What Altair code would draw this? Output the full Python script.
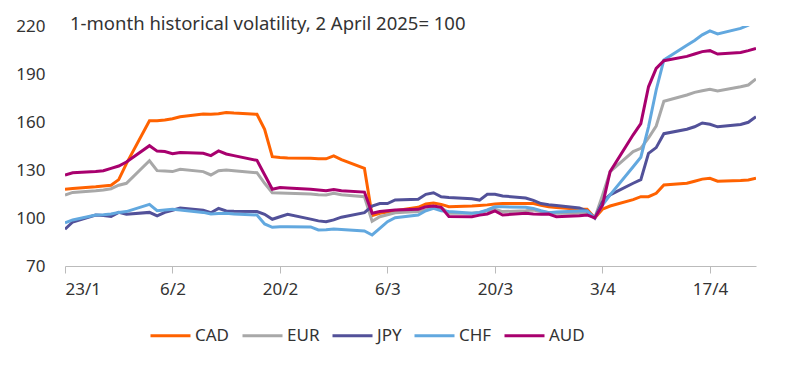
import altair as alt
import pandas as pd

dates = [
    "2025-01-23", "2025-01-24", "2025-01-27", "2025-01-28", "2025-01-29", "2025-01-30", "2025-01-31",
    "2025-02-03", "2025-02-04", "2025-02-05", "2025-02-06", "2025-02-07",
    "2025-02-10", "2025-02-11", "2025-02-12", "2025-02-13", "2025-02-14",
    "2025-02-17", "2025-02-18", "2025-02-19", "2025-02-20", "2025-02-21",
    "2025-02-24", "2025-02-25", "2025-02-26", "2025-02-27", "2025-02-28",
    "2025-03-03", "2025-03-04", "2025-03-05", "2025-03-06", "2025-03-07",
    "2025-03-10", "2025-03-11", "2025-03-12", "2025-03-13", "2025-03-14",
    "2025-03-17", "2025-03-18", "2025-03-19", "2025-03-20", "2025-03-21",
    "2025-03-24", "2025-03-25", "2025-03-26", "2025-03-27", "2025-03-28",
    "2025-03-31", "2025-04-01", "2025-04-02", "2025-04-03", "2025-04-04",
    "2025-04-07", "2025-04-08", "2025-04-09", "2025-04-10", "2025-04-11",
    "2025-04-14", "2025-04-15", "2025-04-16", "2025-04-17", "2025-04-18",
    "2025-04-21", "2025-04-22", "2025-04-23",
]

cad = [118, 118.5, 119.5, 120, 120.5, 124, 134,
       160.8, 160.8, 161.3, 162, 163.3,
       165, 164.8, 165.2, 166, 165.6,
       164.8, 155.4, 138.3, 137.8, 137.5,
       137.3, 137, 137, 138.8, 136.5,
       131, 101.5, 103, 103.8, 104.5,
       106.7, 108.8, 109.3, 108.5, 107,
       107.5, 107.8, 108.2, 108.8, 109,
       109, 109, 108, 107, 106.5,
       105.5, 105.4, 100, 105.5, 107.5,
       111.5, 113.3, 113.3, 115.4, 120.6,
       121.7, 123, 124.3, 124.8, 123,
       123.5, 123.8, 124.8]

eur = [114.4, 116, 117, 117.5, 118.3, 120.5, 121.7,
       135.8, 129.6, 129.3, 129, 130.4,
       129, 126.9, 129.6, 130, 129.5,
       128.3, 121.7, 115.8, 115.6, 115.4,
       115, 114.5, 114.4, 115.4, 114.5,
       113.3, 98, 100.8, 102, 103.3,
       104, 105, 106.5, 106.5, 103,
       103, 103.5, 104.5, 105.5, 104,
       104.5, 105, 104, 103.5, 103,
       103, 103, 100, 114, 129,
       141.5, 143.5, 150, 157.5, 173,
       176.9, 178.5, 179.5, 180.5, 179.4,
       182, 183.1, 186.9]

jpy = [93, 97.5, 101.9, 101.5, 101, 103.5, 102.3,
       103.5, 101.3, 103.5, 104.8, 106.2,
       104.8, 103.3, 106, 104.4, 104.2,
       104, 102.3, 99.2, 100.8, 102.3,
       99.3, 98.2, 97.7, 98.8, 100.5,
       103.3, 107.5, 109, 109, 111.3,
       111.7, 114.8, 115.8, 113.3, 112.8,
       112, 111.2, 114.8, 114.8, 113.8,
       112.5, 111, 109, 108.3, 107.8,
       106.2, 104.4, 100, 110, 114.5,
       121.7, 124, 140.4, 144, 152.7,
       155.5, 157, 159.4, 158.6, 157,
       158.5, 159.8, 163.3]

chf = [97, 98.8, 101.9, 102, 102.5, 103.5, 104,
       108.5, 104.6, 105, 105.4, 105,
       103.5, 102.5, 102.8, 103, 102.5,
       101.9, 96.3, 94.2, 94.6, 94.6,
       94.4, 92.5, 92.7, 93.1, 92.8,
       91.9, 89.4, 93.5, 97.7, 100.2,
       101.9, 104.5, 106, 104.5, 104,
       103, 103.5, 105, 107, 107,
       106.7, 106, 104.5, 103.3, 103.8,
       104.4, 104.4, 100, 108, 114.5,
       132, 138, 157, 180, 198.8,
       208, 211, 214.5, 217, 215,
       218.5, 220.5, 224]

aud = [126.9, 128.3, 129, 129.5, 131, 132.5, 135,
       145.2, 141.8, 141.5, 140.2, 141,
       140.4, 139, 141.9, 140, 139,
       136, 127, 118, 119, 118.7,
       118, 117.5, 117, 117.8, 117,
       116.2, 103, 104, 104.6, 105,
       105.4, 107, 107.5, 106.7, 101,
       100.8, 101.8, 102.5, 104.4, 101.9,
       103, 102.5, 102.3, 102.5, 100.8,
       101.4, 101.9, 100, 108, 129,
       152, 159, 182, 193.5, 198.3,
       201, 202.5, 204, 204.6, 202.5,
       203.5, 204.6, 206]

series = ["CAD", "EUR", "JPY", "CHF", "AUD"]
colors = ["#FF6200", "#A8A8A8", "#525199", "#62A8DF", "#A8006E"]
y_ticks = [70, 100, 130, 160, 190, 220]
x_ticks = [(1, 23), (2, 6), (2, 20), (3, 6), (3, 20), (4, 3), (4, 17)]
title_text = "1-month historical volatility, 2 April 2025= 100"

rows = []
for name, vals in zip(series, [cad, eur, jpy, chf, aud]):
    for d, v in zip(dates, vals):
        rows.append({"date": d, "ccy": name, "value": v})
df = pd.DataFrame(rows)

FONT = "Noto Sans"
TXT = "#333333"

lines = alt.Chart(df).mark_line(strokeWidth=3, clip=True).encode(
    x=alt.X(
        "date:T",
        scale=alt.Scale(
            type="utc",
            domain=[alt.DateTime(year=2025, month=1, date=23, utc=True),
                    alt.DateTime(year=2025, month=4, date=23, utc=True)],
        ),
        axis=alt.Axis(
            values=[alt.DateTime(year=2025, month=m, date=d, utc=True) for m, d in x_ticks],
            format="%-d/%-m",
            title=None,
            grid=False,
            domain=True,
            domainColor="#BBBBBB",
            domainWidth=1,
            ticks=True,
            tickColor="#BBBBBB",
            tickSize=7,
            labelPadding=8,
            labelFontSize=17,
            labelColor=TXT,
            labelFont=FONT,
        ),
    ),
    y=alt.Y(
        "value:Q",
        scale=alt.Scale(domain=[70, 220], nice=False, zero=False),
        axis=alt.Axis(
            values=y_ticks,
            title=None,
            grid=False,
            domain=False,
            ticks=False,
            labelPadding=20,
            labelFontSize=17,
            labelColor=TXT,
            labelFont=FONT,
        ),
    ),
    color=alt.Color(
        "ccy:N",
        scale=alt.Scale(domain=series, range=colors),
        sort=series,
        legend=alt.Legend(
            title=None,
            orient="none",
            direction="horizontal",
            legendX=84,
            legendY=288,
            symbolType="stroke",
            symbolSize=1600,
            symbolStrokeWidth=3,
            labelFontSize=17,
            labelFont=FONT,
            labelColor=TXT,
            labelOffset=3,
            columnPadding=6,
        ),
    ),
)

title = alt.Chart(pd.DataFrame({"t": [title_text]})).mark_text(
    align="left", baseline="middle", fontSize=18.5, font=FONT, color=TXT
).encode(x=alt.value(5), y=alt.value(-2), text="t:N")

chart = alt.layer(lines, title).properties(
    width=691,
    height=240,
    padding={"left": 57, "top": 18, "right": 20, "bottom": 95},
    autosize=alt.AutoSizeParams(type="none"),
).configure_view(stroke=None)

chart.save("out.html", embed_options={"renderer": "svg", "actions": False})
